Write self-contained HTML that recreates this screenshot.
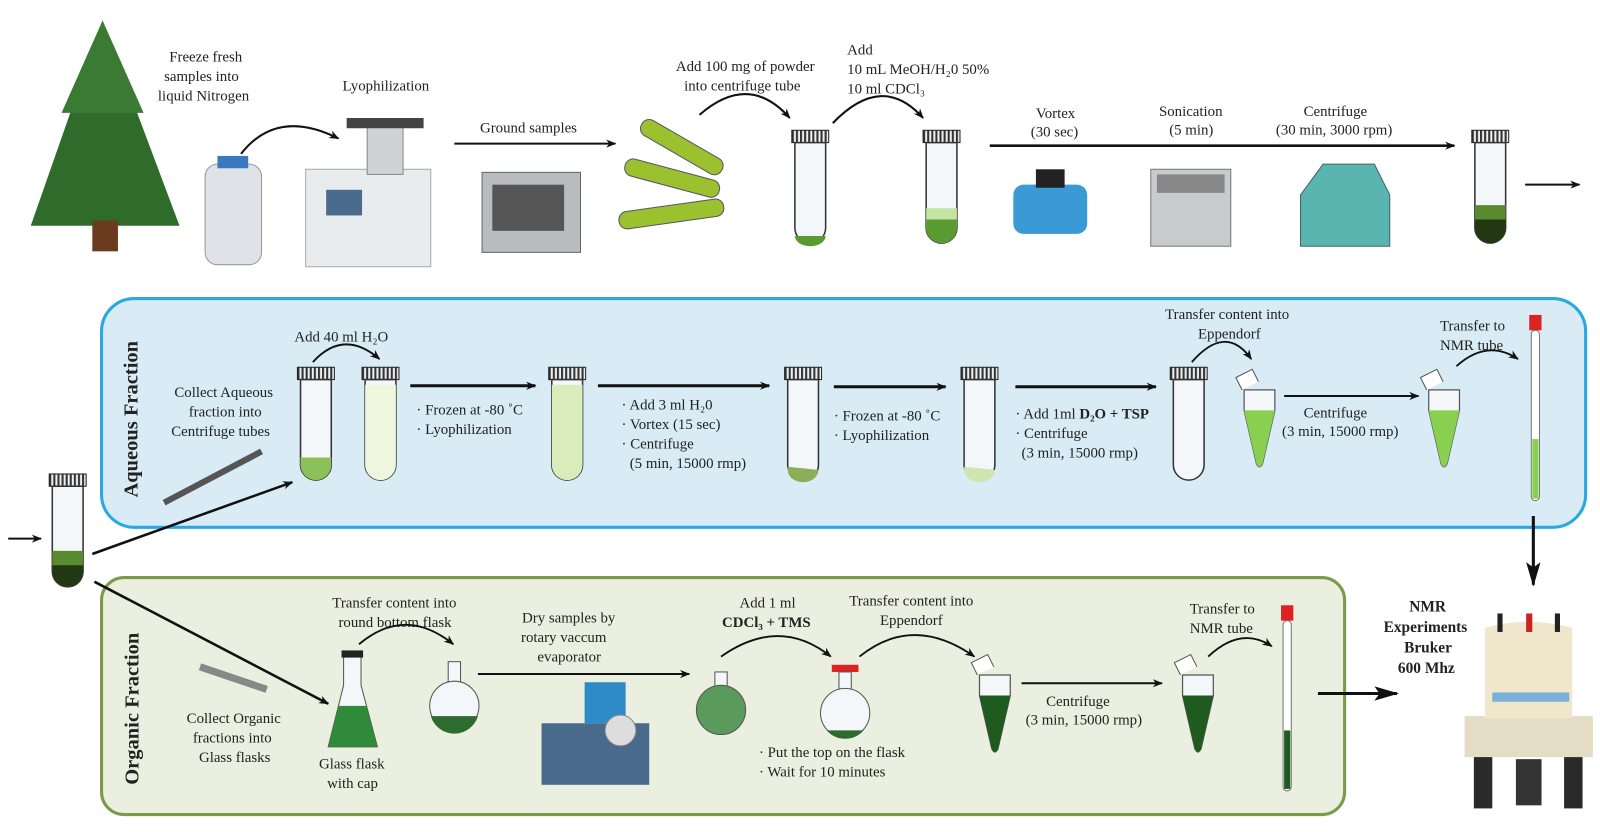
<!DOCTYPE html>
<html><head><meta charset="utf-8"><style>
html,body{margin:0;padding:0;background:#fff}
svg{display:block}
text{font-family:"Liberation Serif",serif;font-size:14.5px;fill:#222}
.b{font-weight:bold}
</style></head><body>
<svg width="1600" height="832" viewBox="0 0 1560 811" preserveAspectRatio="none" xmlns="http://www.w3.org/2000/svg">
<defs>
<marker id="a" markerWidth="10" markerHeight="8" refX="9" refY="4" orient="auto" markerUnits="userSpaceOnUse"><path d="M0,0 L10,4 L0,8 L3,4 Z" fill="#111"/></marker>
<marker id="A" markerWidth="24" markerHeight="14" refX="22" refY="7" orient="auto" markerUnits="userSpaceOnUse"><path d="M0,0 L24,7 L0,14 L5,7 Z" fill="#111"/></marker>
<pattern id="cap" width="4" height="12" patternUnits="userSpaceOnUse"><rect width="4" height="12" fill="#eee"/><rect width="2" height="12" fill="#333"/></pattern>
<g id="tube">
<rect x="0" y="0" width="36" height="12" fill="url(#cap)" stroke="#222"/>
<path d="M3,12 V95 A15,15 0 0 0 33,95 V12 Z" fill="#f4f7f9" stroke="#333" stroke-width="1.5"/>
</g>
<g id="epp">
<path d="M0,0 H30 V20 L18,72 Q15,78 12,72 L0,20 Z" fill="#f4f7f9" stroke="#555" stroke-width="1.2"/>
<path d="M-2,0 L-8,-12 L8,-20 L14,-8" fill="#fff" stroke="#555"/>
</g>
</defs>

<!-- Top row -->
<path d="M100,20 L30,220 H175 Z" fill="#2f6b2a"/>
<path d="M100,20 L60,110 H140 Z" fill="#3a7a33"/>
<rect x="90" y="215" width="25" height="30" fill="#6b3b1f"/>
<rect x="200" y="160" width="55" height="98" rx="12" fill="#dfe3e8" stroke="#999"/>
<rect x="212" y="152" width="30" height="12" fill="#3a78c0"/>
<text x="165" y="60">Freeze fresh</text><text x="160" y="79">samples into</text><text x="154" y="98">liquid Nitrogen</text>
<path d="M235,150 Q270,105 330,135" fill="none" stroke="#111" stroke-width="2" marker-end="url(#a)"/>
<text x="334" y="88">Lyophilization</text>
<rect x="298" y="165" width="122" height="95" fill="#e8ecef" stroke="#aaa"/>
<rect x="318" y="185" width="35" height="25" fill="#4a6b8c"/>
<rect x="358" y="120" width="35" height="50" fill="#cfd3d6" stroke="#888"/>
<rect x="338" y="115" width="75" height="10" fill="#444"/>
<line x1="443" y1="140" x2="600" y2="140" stroke="#111" stroke-width="2" marker-end="url(#a)"/>
<text x="468" y="129">Ground samples</text>
<rect x="470" y="168" width="96" height="78" fill="#b9bcbf" stroke="#666"/>
<rect x="480" y="180" width="70" height="45" fill="#555"/>
<g fill="#9bc22e" stroke="#556">
<rect x="620" y="135" width="90" height="17" rx="8" transform="rotate(30 665 143)"/>
<rect x="608" y="165" width="95" height="17" rx="8" transform="rotate(15 655 173)"/>
<rect x="603" y="200" width="103" height="17" rx="8" transform="rotate(-8 655 208)"/>
</g>
<text x="659" y="69">Add 100 mg of powder</text><text x="667" y="88">into centrifuge tube</text>
<path d="M682,112 Q730,70 770,115" fill="none" stroke="#111" stroke-width="2" marker-end="url(#a)"/>
<use href="#tube" x="772" y="127"/>
<path d="M775,230 A15,10 0 0 0 805,230 Z" fill="#5a9a30"/>
<text x="826" y="53">Add</text><text x="826" y="72">10 mL MeOH/H₂0  50%</text><text x="826" y="91">10 ml CDCl₃</text>
<path d="M812,120 Q860,70 900,115" fill="none" stroke="#111" stroke-width="2" marker-end="url(#a)"/>
<use href="#tube" x="900" y="127"/>
<path d="M903,203 V222 A15,15 0 0 0 933,222 V203 Z" fill="#c4e4a4"/>
<path d="M903,214 V222 A15,15 0 0 0 933,222 V214 Z" fill="#5a9a30"/>
<line x1="965" y1="142" x2="1418" y2="142" stroke="#111" stroke-width="2.5" marker-end="url(#a)"/>
<text x="1010" y="115">Vortex</text><text x="1005" y="133">(30 sec)</text>
<text x="1130" y="113">Sonication</text><text x="1140" y="131">(5 min)</text>
<text x="1271" y="113">Centrifuge</text><text x="1244" y="131">(30 min, 3000 rpm)</text>
<rect x="988" y="180" width="72" height="48" rx="10" fill="#3a9ad6"/>
<rect x="1010" y="165" width="28" height="18" fill="#222"/>
<rect x="1122" y="165" width="78" height="75" fill="#c8cbcd" stroke="#777"/>
<rect x="1128" y="170" width="66" height="18" fill="#888"/>
<path d="M1268,190 L1290,160 H1340 L1355,190 V240 H1268 Z" fill="#5ab5b0" stroke="#466"/>
<use href="#tube" x="1435" y="127"/>
<path d="M1438,200 V222 A15,15 0 0 0 1468,222 V200 Z" fill="#5a8a30"/>
<path d="M1438,214 V222 A15,15 0 0 0 1468,222 V214 Z" fill="#223814"/>
<line x1="1487" y1="180" x2="1540" y2="180" stroke="#111" stroke-width="2" marker-end="url(#a)"/>

<!-- Aqueous box -->
<rect x="99" y="291" width="1447" height="223" rx="32" fill="#d9ecf6" stroke="#2aa8e2" stroke-width="3"/>
<text transform="translate(134,485) rotate(-90)" class="b" style="font-size:20px">Aqueous Fraction</text>
<text x="170" y="387">Collect Aqueous</text><text x="184" y="406">fraction into</text><text x="167" y="425">Centrifuge tubes</text>
<path d="M160,490 L255,440" stroke="#555" stroke-width="6"/>
<text x="287" y="333">Add 40 ml H₂O</text>
<path d="M305,353 Q335,320 370,350" fill="none" stroke="#111" stroke-width="1.8" marker-end="url(#a)"/>
<use href="#tube" x="290" y="358"/>
<path d="M293,446 V453 A15,15 0 0 0 323,453 V446 Z" fill="#8cc058"/>
<use href="#tube" x="353" y="358"/>
<path d="M356,375 V453 A15,15 0 0 0 386,453 V375 Z" fill="#eef7dd"/>
<line x1="400" y1="376" x2="522" y2="376" stroke="#111" stroke-width="3" marker-end="url(#a)"/>
<text x="406" y="404">· Frozen at -80 ˚C</text><text x="406" y="423">· Lyophilization</text>
<use href="#tube" x="535" y="358"/>
<path d="M538,375 V453 A15,15 0 0 0 568,453 V375 Z" fill="#d8ecbc"/>
<line x1="583" y1="376" x2="750" y2="376" stroke="#111" stroke-width="3" marker-end="url(#a)"/>
<text x="606" y="399">· Add 3 ml H₂0</text><text x="606" y="418">· Vortex (15 sec)</text><text x="606" y="437">· Centrifuge</text><text x="614" y="456">(5 min, 15000 rmp)</text>
<use href="#tube" x="765" y="358"/>
<path d="M768,455 V458 A15,12 0 0 0 798,458 Z" fill="#8cae58"/>
<line x1="813" y1="377" x2="922" y2="377" stroke="#111" stroke-width="3" marker-end="url(#a)"/>
<text x="813" y="410">· Frozen at -80 ˚C</text><text x="813" y="429">· Lyophilization</text>
<use href="#tube" x="937" y="358"/>
<path d="M940,455 V458 A15,12 0 0 0 970,458 Z" fill="#cfe5b0"/>
<line x1="990" y1="377" x2="1127" y2="377" stroke="#111" stroke-width="3" marker-end="url(#a)"/>
<text x="990" y="408">· Add  1ml <tspan class="b">D₂O + TSP</tspan></text><text x="990" y="427">· Centrifuge</text><text x="996" y="446">(3 min, 15000 rmp)</text>
<use href="#tube" x="1141" y="358"/>
<text x="1136" y="311">Transfer content into</text><text x="1168" y="330">Eppendorf</text>
<path d="M1162,353 Q1195,315 1220,350" fill="none" stroke="#111" stroke-width="1.8" marker-end="url(#a)"/>
<use href="#epp" x="1213" y="380"/>
<path d="M1213,400 H1243 L1231,452 Q1228,458 1225,452 Z" fill="#8ad050"/>
<line x1="1252" y1="386" x2="1383" y2="386" stroke="#111" stroke-width="2" marker-end="url(#a)"/>
<text x="1271" y="407">Centrifuge</text><text x="1250" y="425">(3 min, 15000 rmp)</text>
<use href="#epp" x="1393" y="380"/>
<path d="M1393,400 H1423 L1411,452 Q1408,458 1405,452 Z" fill="#8ad050"/>
<text x="1404" y="322">Transfer to</text><text x="1404" y="341">NMR tube</text>
<path d="M1420,357 Q1450,330 1480,350" fill="none" stroke="#111" stroke-width="1.8" marker-end="url(#a)"/>
<rect x="1491" y="307" width="12" height="15" fill="#d22"/>
<rect x="1493" y="322" width="8" height="166" rx="4" fill="#fff" stroke="#777"/>
<rect x="1494" y="428" width="6" height="58" fill="#8ad050"/>
<line x1="1495" y1="503" x2="1495" y2="570" stroke="#111" stroke-width="3" marker-end="url(#A)"/>

<!-- left tube -->
<line x1="8" y1="525" x2="40" y2="525" stroke="#111" stroke-width="2" marker-end="url(#a)"/>
<use href="#tube" x="48" y="462"/>
<path d="M51,537 V557 A15,15 0 0 0 81,557 V537 Z" fill="#5a8a30"/>
<path d="M51,551 V557 A15,15 0 0 0 81,557 V551 Z" fill="#223814"/>
<line x1="90" y1="540" x2="285" y2="470" stroke="#111" stroke-width="2.5" marker-end="url(#a)"/>

<!-- Organic box -->
<rect x="99" y="563" width="1212" height="231" rx="22" fill="#eaefdf" stroke="#7c9a4c" stroke-width="3"/>
<line x1="92" y1="567" x2="320" y2="686" stroke="#111" stroke-width="2.5" marker-end="url(#a)"/>
<text transform="translate(135,765) rotate(-90)" class="b" style="font-size:20px">Organic Fraction</text>
<path d="M195,650 L260,672" stroke="#888" stroke-width="7"/>
<text x="182" y="705">Collect Organic</text><text x="188" y="724">fractions into</text><text x="194" y="743">Glass flasks</text>
<path d="M335,640 H352 V668 L368,728 H320 L335,668 Z" fill="#f4f7f9" stroke="#555"/>
<path d="M330,688 H357 L368,728 H320 Z" fill="#2f8a3a"/>
<rect x="333" y="634" width="21" height="7" fill="#222"/>
<text x="311" y="749">Glass flask</text><text x="319" y="768">with cap</text>
<text x="324" y="592">Transfer content into</text><text x="330" y="611">round bottom flask</text>
<path d="M350,628 Q395,590 442,628" fill="none" stroke="#111" stroke-width="1.8" marker-end="url(#a)"/>
<rect x="437" y="645" width="12" height="20" fill="#f4f7f9" stroke="#555"/>
<circle cx="443" cy="688" r="24" fill="#f4f7f9" stroke="#555"/>
<path d="M420,698 A24,24 0 0 0 466,698 Z" fill="#2d6b2e"/>
<line x1="466" y1="657" x2="672" y2="657" stroke="#111" stroke-width="2" marker-end="url(#a)"/>
<text x="509" y="607">Dry samples by</text><text x="508" y="626">rotary vaccum</text><text x="524" y="645">evaporator</text>
<rect x="528" y="705" width="105" height="60" fill="#4a6a8c"/>
<rect x="570" y="665" width="40" height="40" fill="#2f8ac8"/>
<circle cx="605" cy="712" r="15" fill="#ddd" stroke="#888"/>
<text x="721" y="592">Add 1 ml</text><text x="704" y="611" class="b">CDCl₃ + TMS</text>
<path d="M703,640 Q760,600 810,640" fill="none" stroke="#111" stroke-width="1.8" marker-end="url(#a)"/>
<rect x="697" y="655" width="12" height="17" fill="#f4f7f9" stroke="#555"/>
<circle cx="703" cy="692" r="24" fill="#5a9a5a" stroke="#555"/>
<rect x="811" y="648" width="26" height="7" fill="#d22"/>
<rect x="818" y="655" width="12" height="17" fill="#f4f7f9" stroke="#555"/>
<circle cx="824" cy="695" r="24" fill="#f4f7f9" stroke="#555"/>
<path d="M806,712 A24,24 0 0 0 842,712 Z" fill="#2d6b2e"/>
<text x="740" y="738">· Put the top on the flask</text><text x="740" y="757">· Wait for 10 minutes</text>
<text x="828" y="590">Transfer content into</text><text x="858" y="609">Eppendorf</text>
<path d="M838,640 Q890,598 950,640" fill="none" stroke="#111" stroke-width="1.8" marker-end="url(#a)"/>
<use href="#epp" x="955" y="658"/>
<path d="M955,678 H985 L973,730 Q970,736 967,730 Z" fill="#1f5a1f"/>
<line x1="996" y1="666" x2="1133" y2="666" stroke="#111" stroke-width="2" marker-end="url(#a)"/>
<text x="1020" y="688">Centrifuge</text><text x="1000" y="706">(3 min, 15000 rmp)</text>
<use href="#epp" x="1153" y="658"/>
<path d="M1153,678 H1183 L1171,730 Q1168,736 1165,730 Z" fill="#1f5a1f"/>
<text x="1160" y="598">Transfer to</text><text x="1160" y="617">NMR tube</text>
<path d="M1178,640 Q1210,610 1240,630" fill="none" stroke="#111" stroke-width="1.8" marker-end="url(#a)"/>
<rect x="1249" y="590" width="12" height="15" fill="#d22"/>
<rect x="1251" y="605" width="8" height="166" rx="4" fill="#fff" stroke="#777"/>
<rect x="1252" y="712" width="6" height="57" fill="#1f5a1f"/>
<line x1="1285" y1="676" x2="1362" y2="676" stroke="#111" stroke-width="3" marker-end="url(#A)"/>

<!-- NMR -->
<text x="1374" y="596" class="b" style="font-size:15px">NMR</text>
<text x="1349" y="616" class="b" style="font-size:15px">Experiments</text>
<text x="1369" y="636" class="b" style="font-size:15px">Bruker</text>
<text x="1363" y="656" class="b" style="font-size:15px">600 Mhz</text>
<rect x="1437" y="718" width="18" height="70" fill="#2a2a2a"/>
<rect x="1525" y="718" width="18" height="70" fill="#2a2a2a"/>
<rect x="1478" y="740" width="25" height="45" fill="#333"/>
<rect x="1428" y="698" width="125" height="40" fill="#e4dcc4"/>
<path d="M1448,612 Q1490,600 1533,612 V700 H1448 Z" fill="#efe6cc"/>
<rect x="1460" y="598" width="5" height="18" fill="#222"/><rect x="1488" y="598" width="6" height="18" fill="#c22"/><rect x="1516" y="598" width="5" height="18" fill="#222"/>
<rect x="1455" y="675" width="75" height="9" fill="#7ab0d8"/>
</svg>
</body></html>
